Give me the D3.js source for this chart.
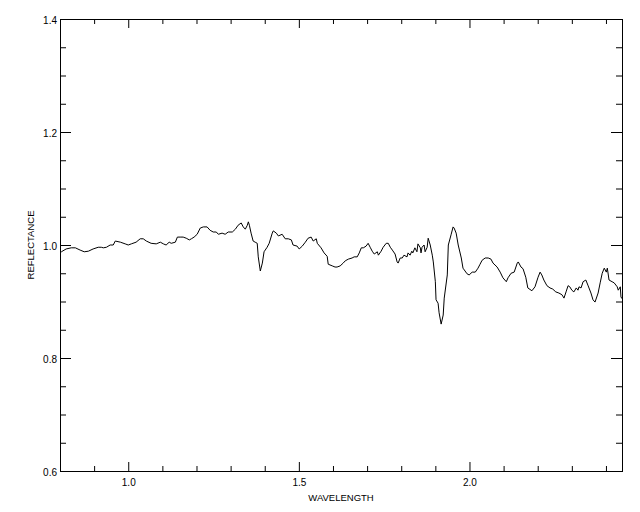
<!DOCTYPE html>
<html>
<head>
<meta charset="utf-8">
<script src="https://cdn.jsdelivr.net/npm/d3@7"></script>
<style>
  html, body { margin: 0; padding: 0; background: #fff; }
  svg { display: block; }
  text { font-family: "Liberation Sans", Arial, sans-serif; fill: #000; }
</style>
</head>
<body>
<svg id="chart" width="640" height="512"></svg>
<script>
const wavelength = [
  0.800,0.804,0.818,0.833,0.845,0.859,0.871,0.883,0.897,0.912,0.921,0.927,0.936,0.947,0.956,0.962,0.977,0.991,
  1.000,1.009,1.023,1.035,1.044,1.053,1.067,1.082,1.094,1.103,1.111,1.120,1.126,1.138,1.144,1.152,1.161,1.170,
  1.179,1.185,1.193,1.202,1.211,1.220,1.231,1.240,1.249,1.258,1.264,1.275,1.284,1.293,1.305,1.314,1.322,1.331,
  1.337,1.343,1.349,1.352,1.355,1.360,1.366,1.372,1.378,1.381,1.387,1.393,1.398,1.407,1.413,1.422,1.425,1.434,
  1.440,1.451,1.460,1.469,1.478,1.483,1.495,1.501,1.510,1.519,1.527,1.536,1.542,1.551,1.554,1.565,1.574,1.583,
  1.586,1.598,1.606,1.612,1.621,1.630,1.636,1.645,1.656,1.662,1.671,1.677,1.683,1.689,1.697,1.703,1.709,1.715,
  1.721,1.730,1.733,1.741,1.747,1.756,1.762,1.768,1.774,1.782,1.788,1.791,1.797,1.803,1.808,1.817,1.820,1.826,
  1.831,1.834,1.840,1.846,1.849,1.856,1.858,1.861,1.867,1.870,1.876,1.879,1.885,1.891,1.894,1.900,1.902,1.908,
  1.911,1.917,1.923,1.926,1.935,1.938,1.946,1.952,1.955,1.961,1.967,1.976,1.981,1.993,1.999,2.008,2.017,2.025,
  2.031,2.037,2.046,2.055,2.063,2.069,2.081,2.090,2.098,2.108,2.113,2.122,2.131,2.140,2.143,2.151,2.157,2.165,
  2.171,2.183,2.192,2.201,2.207,2.212,2.218,2.227,2.236,2.244,2.253,2.262,2.271,2.277,2.283,2.289,2.294,2.300,
  2.306,2.313,2.318,2.321,2.327,2.333,2.341,2.347,2.356,2.362,2.368,2.377,2.383,2.389,2.395,2.401,2.404,2.409,
  2.418,2.424,2.433,2.436,2.442,2.444,2.447
];
const reflectance = [
  0.990,0.988,0.993,0.995,0.995,0.991,0.988,0.989,0.993,0.996,0.996,0.995,0.996,1.000,1.000,1.007,1.005,1.002,
  1.000,1.002,1.005,1.011,1.011,1.007,1.003,1.002,1.005,1.002,1.000,1.005,1.003,1.005,1.014,1.014,1.014,1.012,
  1.009,1.011,1.014,1.019,1.030,1.032,1.032,1.026,1.023,1.023,1.019,1.021,1.019,1.023,1.023,1.028,1.035,1.039,
  1.032,1.028,1.035,1.041,1.035,1.021,1.007,1.005,1.003,0.979,0.954,0.968,0.988,0.996,1.003,1.021,1.025,1.021,
  1.016,1.019,1.011,1.011,1.009,1.000,0.998,0.993,0.998,1.005,1.012,1.014,1.007,1.011,1.003,0.995,0.986,0.980,
  0.966,0.963,0.961,0.961,0.963,0.968,0.972,0.975,0.977,0.979,0.979,0.986,0.995,0.995,0.998,1.003,0.996,0.989,
  0.984,0.988,0.982,0.989,0.996,1.003,1.003,0.996,0.991,0.984,0.970,0.968,0.977,0.977,0.982,0.979,0.986,0.982,
  0.989,0.986,0.995,0.988,1.002,0.995,0.986,0.996,1.000,0.988,0.996,1.012,1.000,0.982,0.970,0.935,0.903,0.897,
  0.880,0.860,0.876,0.906,0.947,1.000,1.018,1.032,1.030,1.021,1.000,0.977,0.959,0.949,0.947,0.952,0.952,0.959,
  0.966,0.973,0.977,0.977,0.975,0.968,0.961,0.952,0.942,0.935,0.942,0.950,0.952,0.968,0.970,0.961,0.958,0.943,
  0.924,0.919,0.926,0.943,0.952,0.947,0.938,0.928,0.924,0.922,0.917,0.915,0.912,0.906,0.917,0.928,0.926,0.920,
  0.917,0.924,0.920,0.926,0.924,0.935,0.938,0.929,0.915,0.903,0.899,0.915,0.933,0.950,0.959,0.952,0.959,0.938,
  0.935,0.933,0.926,0.920,0.926,0.908,0.905
];
const xMajorTicks = [1.0, 1.5, 2.0];
const xMinorTicks = [0.9, 1.1, 1.2, 1.3, 1.4, 1.6, 1.7, 1.8, 1.9, 2.1, 2.2, 2.3, 2.4];
const yMajorTicks = [0.6, 0.8, 1.0, 1.2, 1.4];
const yMinorTicks = [0.65, 0.7, 0.75, 0.85, 0.9, 0.95, 1.05, 1.1, 1.15, 1.25, 1.3, 1.35];
const xTitle = "WAVELENGTH";
const yTitle = "REFLECTANCE";

const W = 640, H = 512;
const margin = {left: 60, right: 18, top: 19, bottom: 41};
const svg = d3.select("#chart");
const x = d3.scaleLinear().domain([0.8, 2.447]).range([margin.left, W - margin.right]);
const y = d3.scaleLinear().domain([0.6, 1.4]).range([H - margin.bottom, margin.top]);
const fmt = d3.format(".1f");
const FS = "10px";

// bottom axis
const gB = svg.append("g").attr("transform", `translate(0,${H - margin.bottom})`);
gB.call(d3.axisBottom(x).tickValues(xMajorTicks).tickFormat(fmt).tickSize(-9).tickSizeOuter(0).tickPadding(8));
gB.append("g").call(d3.axisBottom(x).tickValues(xMinorTicks).tickFormat("").tickSize(-5).tickSizeOuter(0));
// top axis
const gT = svg.append("g").attr("transform", `translate(0,${margin.top})`);
gT.call(d3.axisTop(x).tickValues(xMajorTicks).tickFormat("").tickSize(-9).tickSizeOuter(0));
gT.append("g").call(d3.axisTop(x).tickValues(xMinorTicks).tickFormat("").tickSize(-5).tickSizeOuter(0));
// left axis
const gL = svg.append("g").attr("transform", `translate(${margin.left},0)`);
gL.call(d3.axisLeft(y).tickValues(yMajorTicks).tickFormat(fmt).tickSize(-11).tickSizeOuter(0).tickPadding(3));
gL.append("g").call(d3.axisLeft(y).tickValues(yMinorTicks).tickFormat("").tickSize(-6).tickSizeOuter(0));
// right axis
const gR = svg.append("g").attr("transform", `translate(${W - margin.right},0)`);
gR.call(d3.axisRight(y).tickValues(yMajorTicks).tickFormat("").tickSize(-11).tickSizeOuter(0));
gR.append("g").call(d3.axisRight(y).tickValues(yMinorTicks).tickFormat("").tickSize(-6).tickSizeOuter(0));

svg.selectAll(".domain").remove();
svg.selectAll(".tick line").attr("stroke", "#000").attr("stroke-width", 1);
svg.selectAll(".tick text").attr("font-size", FS).attr("font-family", "Liberation Sans, Arial, sans-serif").attr("fill", "#000");
gL.selectAll(".tick text").attr("dy", "0.4em");

// frame
svg.append("rect")
  .attr("x", margin.left + 0.5).attr("y", margin.top + 0.5)
  .attr("width", W - margin.left - margin.right).attr("height", H - margin.top - margin.bottom)
  .attr("fill", "none").attr("stroke", "#000").attr("stroke-width", 1);

// line
const pts = wavelength.map((w, i) => [w, reflectance[i]]);
svg.append("path")
  .datum(pts)
  .attr("fill", "none").attr("stroke", "#000").attr("stroke-width", 1)
  .attr("d", d3.line().x(d => x(d[0])).y(d => y(d[1])));

// titles
svg.append("text")
  .attr("x", (margin.left + W - margin.right) / 2).attr("y", 501)
  .attr("text-anchor", "middle").attr("font-size", "9.5px").attr("fill", "#000")
  .text(xTitle);
svg.append("text")
  .attr("transform", `translate(34,${y(1.0)}) rotate(-90)`)
  .attr("text-anchor", "middle").attr("font-size", "9.5px").attr("fill", "#000")
  .text(yTitle);
</script>
</body>
</html>
